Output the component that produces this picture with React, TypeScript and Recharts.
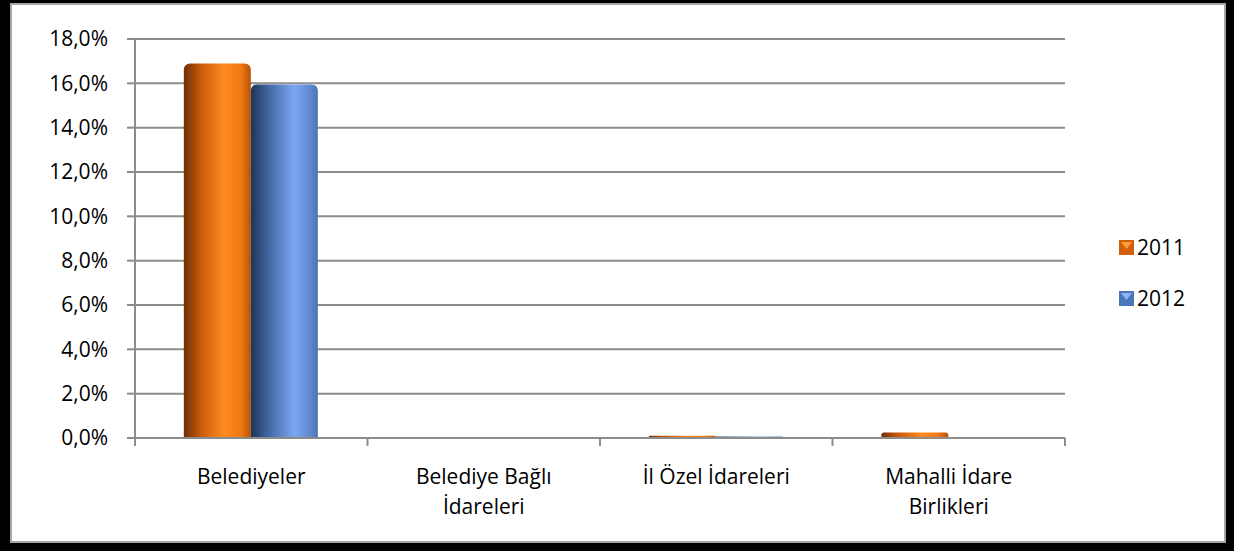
import React from "react";
import { BarChart, Bar, XAxis, YAxis, CartesianGrid } from "recharts";

const categories = ["Belediyeler", "Belediye Bağlı İdareleri", "İl Özel İdareleri", "Mahalli İdare Birlikleri"];
const categoryLines = [["Belediyeler"], ["Belediye Bağlı", "İdareleri"], ["İl Özel İdareleri"], ["Mahalli İdare", "Birlikleri"]];
const series2011 = [16.9, 0, 0.1, 0.25];
const series2012 = [15.95, 0, 0.07, 0.04];
const yTicks = [0, 2, 4, 6, 8, 10, 12, 14, 16, 18];
const legendItems = ["2011", "2012"];

const data = categories.map((c, i) => ({ name: c, y2011: series2011[i], y2012: series2012[i] }));

const FONT = "'Open Sans', Lato, sans-serif";
const FS = 21;
const AXIS = "#8c8c8c";

const XTick = (props: any) => {
  const { x, y, payload } = props;
  const lines = categoryLines[payload.index] || [payload.value];
  const half = payload.offset || 0;
  const last = payload.index === categories.length - 1;
  return (
    <g>
      <line x1={x - half} x2={x - half} y1={y} y2={y + 8} stroke={AXIS} strokeWidth={2} />
      {last && <line x1={x + half} x2={x + half} y1={y} y2={y + 8} stroke={AXIS} strokeWidth={2} />}
      <text x={x} y={y} textAnchor="middle" fontFamily={FONT} fontSize={FS} fill="#000">
        {lines.map((l: string, i: number) => (
          <tspan key={i} x={x} dy={i === 0 ? 46 : 30}>{l}</tspan>
        ))}
      </text>
    </g>
  );
};

const LegendBox = () => (
  <div style={{ position: "absolute", left: 1119, top: 234, fontFamily: FONT, fontSize: FS, color: "#000" }}>
    {legendItems.map((k, i) => (
      <div key={k} style={{ display: "flex", alignItems: "center", height: 26, marginBottom: i === 0 ? 25 : 0 }}>
        <svg width={15} height={15} style={{ marginRight: 3 }}>
          <rect x={0} y={0} width={15} height={15} fill={i === 0 ? "#D2600A" : "#4A76BC"} />
          <polygon points="2,2 13,2 7.5,9" fill={i === 0 ? "#FF9A3A" : "#8DB3F0"} />
        </svg>
        <span>{k}</span>
      </div>
    ))}
  </div>
);

export default function App() {
  return (
    <div style={{ position: "fixed", left: 0, top: 0, width: 1234, height: 551, background: "#000" }}>
      <div style={{ position: "absolute", left: 10, top: 3, width: 1216, height: 540, background: "#fff", boxSizing: "border-box", border: "2px solid #a6a6a6" }} />
      <div style={{ position: "absolute", left: 0, top: 0 }}>
        <BarChart
          width={1234}
          height={551}
          data={data}
          margin={{ top: 39, right: 169, bottom: 0, left: 0 }}
          barCategoryGap="21%"
          barGap={0}
        >
          <defs>
            <linearGradient id="g2011" x1="0" y1="0" x2="1" y2="0">
              <stop offset="0%" stopColor="#6E2E05" />
              <stop offset="25%" stopColor="#C85A0C" />
              <stop offset="60%" stopColor="#FF8A22" />
              <stop offset="85%" stopColor="#F07A14" />
              <stop offset="100%" stopColor="#B85208" />
            </linearGradient>
            <linearGradient id="g2012" x1="0" y1="0" x2="1" y2="0">
              <stop offset="0%" stopColor="#1F3457" />
              <stop offset="25%" stopColor="#3F659F" />
              <stop offset="65%" stopColor="#7CA6F2" />
              <stop offset="88%" stopColor="#5F8AD2" />
              <stop offset="100%" stopColor="#4A72B5" />
            </linearGradient>
          </defs>
          <CartesianGrid vertical={false} stroke={AXIS} strokeWidth={2} />
          <XAxis
            dataKey="name"
            tick={<XTick />}
            tickLine={false}
            tickSize={0}
            tickMargin={0}
            axisLine={{ stroke: AXIS, strokeWidth: 2 }}
            interval={0}
            height={113}
          />
          <YAxis
            domain={[0, 18]}
            ticks={yTicks}
            interval={0}
            width={135}
            tickFormatter={(v: number) => v.toFixed(1).replace(".", ",") + "%"}
            tick={{ fontFamily: FONT, fontSize: FS, fill: "#000" }}
            tickLine={{ stroke: AXIS, strokeWidth: 2 }}
            tickSize={8}
            tickMargin={19}
            axisLine={{ stroke: AXIS, strokeWidth: 2 }}
          />
          <Bar dataKey="y2011" fill="url(#g2011)" radius={[6, 6, 0, 0]} isAnimationActive={false} />
          <Bar dataKey="y2012" fill="url(#g2012)" radius={[6, 6, 0, 0]} isAnimationActive={false} />
        </BarChart>
      </div>
      <LegendBox />
    </div>
  );
}
